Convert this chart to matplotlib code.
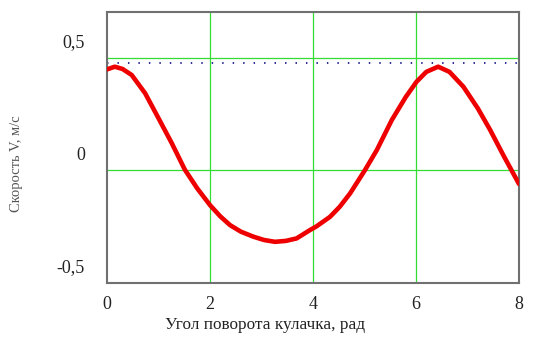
import matplotlib
matplotlib.use("Agg")
import matplotlib.pyplot as plt

# угол поворота кулачка, рад / скорость, м/с
angle = [0.0, 0.15, 0.3, 0.48, 0.74, 1.0, 1.26, 1.51, 1.75, 2.0, 2.2, 2.39,
         2.6, 2.84, 3.05, 3.26, 3.47, 3.68, 3.94, 4.07, 4.33, 4.52, 4.72,
         5.01, 5.24, 5.53, 5.8, 6.01, 6.2, 6.43, 6.65, 6.92, 7.2, 7.44,
         7.7, 8.0]
speed = [0.373, 0.385, 0.375, 0.348, 0.267, 0.156, 0.044, -0.072, -0.155,
         -0.23, -0.28, -0.319, -0.348, -0.37, -0.385, -0.393, -0.389, -0.378,
         -0.341, -0.324, -0.282, -0.237, -0.178, -0.074, 0.015, 0.148, 0.25,
         0.318, 0.362, 0.385, 0.362, 0.296, 0.2, 0.104, -0.01, -0.136]
v_max_line = 0.403
y_ticks = [-0.5, 0.0, 0.5]
y_labels = ["-0,5", "0", "0,5"]
x_ticks = [0, 2, 4, 6, 8]

plt.rcParams['font.family'] = ['Liberation Serif', 'DejaVu Serif']

fig = plt.figure(figsize=(5.34, 3.38), dpi=100)
ax = fig.add_axes([0.2004, 0.1627, 0.7715, 0.8018])

ymin, ymax = -0.576, 0.628
ax.set_xlim(0, 8)
ax.set_ylim(ymin, ymax)

# grid (Mathcad style: horizontal lines counted from bottom)
for gx in [2, 4, 6]:
    ax.axvline(gx, color="#33dd33", lw=0.9, zorder=1)
for gy in [ymin + 0.5, ymin + 1.0]:
    ax.axhline(gy, color="#33dd33", lw=0.9, zorder=1)

ax.axhline(v_max_line, color="#1a1a8c", lw=1.3, ls=(0, (0.8, 5)), zorder=2)
ax.plot(angle, speed, color="#ee0000", lw=3.3, zorder=3,
        solid_capstyle="round", solid_joinstyle="round")

ax.set_xticks(x_ticks)
ax.set_xticklabels([str(t) for t in x_ticks])
ax.set_yticks(y_ticks)
ax.set_yticklabels(y_labels)
ax.tick_params(axis="both", length=0, labelsize=13, colors="#222222")
ax.tick_params(axis="x", pad=9)
ax.tick_params(axis="y", pad=16)

for s in ax.spines.values():
    s.set_color("#707070")
    s.set_linewidth(1.5)

fig.text(0.496, 0.038, "Угол поворота кулачка, рад", ha="center", va="center",
         fontsize=12.4, color="#222222")
fig.text(0.03, 0.515, "Скорость V, м/с", ha="center", va="center",
         rotation=90, fontsize=10.5, color="#555555")

fig.savefig("out.png", dpi=100)
